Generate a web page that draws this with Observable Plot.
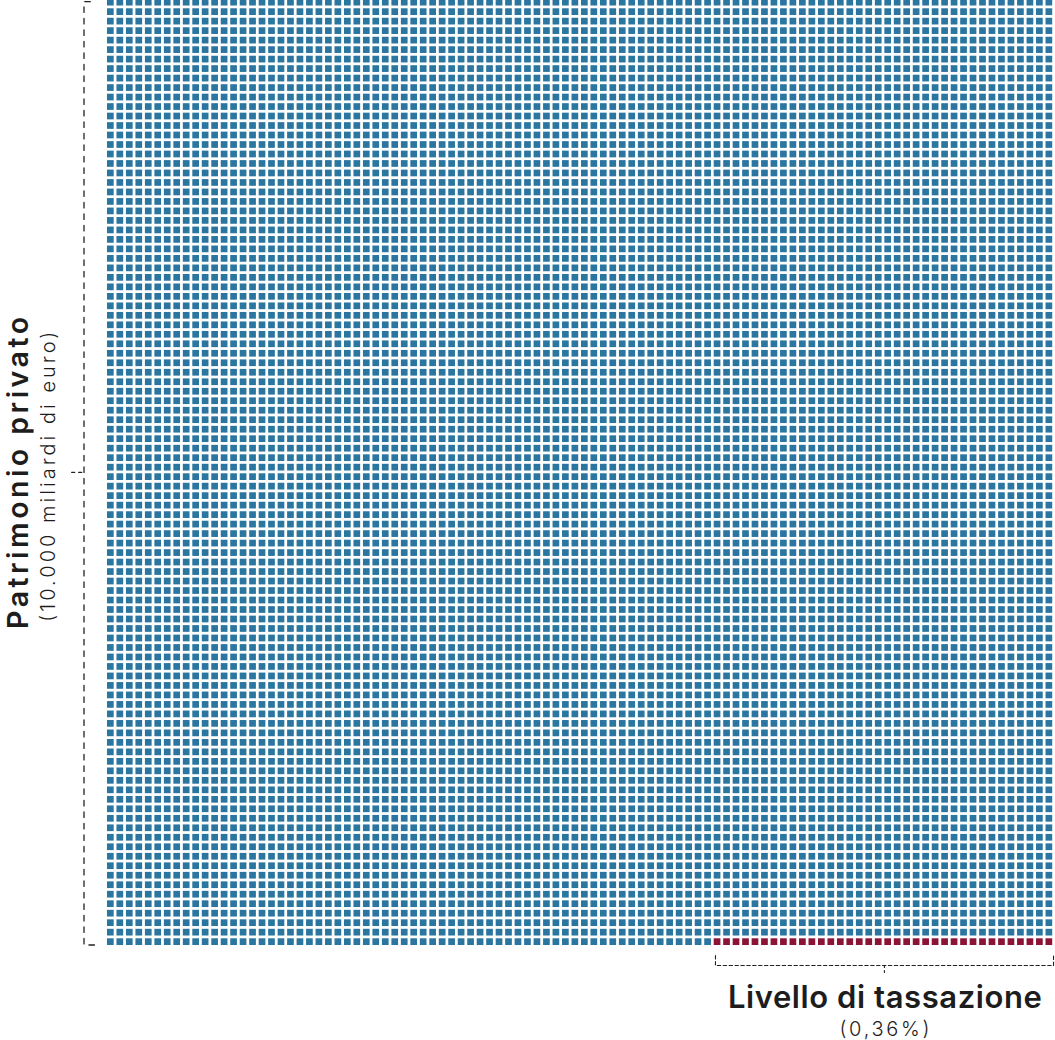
<!DOCTYPE html>
<html>
<head>
<meta charset="utf-8">
<script src="https://cdn.jsdelivr.net/npm/d3@7"></script>
<script src="https://cdn.jsdelivr.net/npm/@observablehq/plot@0.6"></script>
<style>
  html, body { margin: 0; padding: 0; background: #ffffff; }
  #chart svg { display: block; }
</style>
</head>
<body>
<div id="chart"></div>
<script>
// ---- data ----
const groups = ["Patrimonio privato", "Livello di tassazione"];
const groupCells = [10000, 36];          // 1 cella = 1 miliardo di euro; 36 = 0,36%
const gridSize = [100, 100];             // colonne, righe
const yTitle = ["Patrimonio privato", "(10.000 miliardi di euro)"];
const xTitle = ["Livello di tassazione", "(0,36%)"];

// ---- styles ----
const colors = {"Patrimonio privato": "#2a76a1", "Livello di tassazione": "#8b1336"};
const FONT = "Inter, 'Noto Sans', sans-serif";

// ---- build waffle cells ----
const [cols, rows] = gridSize;
const total = groupCells[0];
const taxed = groupCells[1];
const cells = d3.range(total).map(i => {
  const rowFromTop = Math.floor(i / cols);
  return {
    col: i % cols,
    row: rows - 1 - rowFromTop,
    group: i >= total - taxed ? groups[1] : groups[0]
  };
});

const leftX = -2.33, bottomY = -1.96;
const redStart = cols - taxed;

const chart = Plot.plot({
  width: 1055,
  height: 1040,
  margin: 0,
  style: {background: "transparent", overflow: "visible"},
  x: {type: "linear", domain: [0, cols], range: [105.6, 1053.6], axis: null},
  y: {type: "linear", domain: [0, rows], range: [946.4, -2.6], axis: null},
  color: {domain: groups, range: groups.map(g => colors[g])},
  marks: [
    Plot.rect(cells, {
      x1: "col", x2: d => d.col + 1,
      y1: "row", y2: d => d.row + 1,
      fill: "group", inset: 1.39
    }),
    // left bracket (Patrimonio privato)
    Plot.line([[leftX + 1.1, 0.2], [leftX, 0.2], [leftX, rows - 0.4], [leftX + 1.1, rows - 0.4]], {
      stroke: "#222", strokeWidth: 1.3, strokeDasharray: "5.5,6"
    }),
    Plot.line([[leftX - 1.3, rows / 2], [leftX, rows / 2]], {
      stroke: "#222", strokeWidth: 1.3, strokeDasharray: "3,4"
    }),
    // bottom bracket (Livello di tassazione)
    Plot.line([[redStart + 0.28, bottomY + 1.05], [redStart + 0.28, bottomY], [cols - 0.06, bottomY], [cols - 0.06, bottomY + 1.05]], {
      stroke: "#222", strokeWidth: 1.1, strokeDasharray: "3.4,2.5"
    }),
    Plot.line([[(redStart + cols) / 2 + 0.1, bottomY], [(redStart + cols) / 2 + 0.1, bottomY - 0.8]], {
      stroke: "#222", strokeWidth: 1.1, strokeDasharray: "2,3"
    }),
    // y title
    Plot.text([yTitle[0]], {
      x: -8.29, y: rows / 2 - 0.06, text: d => d, rotate: -90,
      textAnchor: "middle", lineAnchor: "bottom", className: "t-ytitle",
      fontSize: 28.5, fontWeight: 600, fontFamily: FONT, fill: "#1d1d1d"
    }),
    Plot.text([yTitle[1]], {
      x: -5.34, y: rows / 2 - 0.45, text: d => d, rotate: -90,
      textAnchor: "middle", lineAnchor: "bottom", className: "t-ysub",
      fontSize: 20, fontWeight: 300, fontFamily: FONT, fill: "#1d1d1d"
    }),
    // x title
    Plot.text([xTitle[0]], {
      x: (redStart + cols) / 2 + 0.15, y: -6.49, text: d => d,
      textAnchor: "middle", lineAnchor: "bottom", className: "t-xtitle",
      fontSize: 31, fontWeight: 600, fontFamily: FONT, fill: "#1d1d1d"
    }),
    Plot.text([xTitle[1]], {
      x: (redStart + cols) / 2 + 0.1, y: -9.34, text: d => d,
      textAnchor: "middle", lineAnchor: "bottom", className: "t-xsub",
      fontSize: 20, fontWeight: 300, fontFamily: FONT, fill: "#1d1d1d"
    })
  ]
});

// stretch label spacing to the wider typeface of the original
const textLengths = {"t-ytitle": 312, "t-ysub": 290, "t-xtitle": 314, "t-xsub": 90};
for (const [cls, len] of Object.entries(textLengths)) {
  chart.querySelectorAll(`.${cls} text`).forEach(t => {
    t.setAttribute("textLength", len);
    t.setAttribute("lengthAdjust", "spacing");
  });
}
document.getElementById("chart").appendChild(chart);
</script>
</body>
</html>
